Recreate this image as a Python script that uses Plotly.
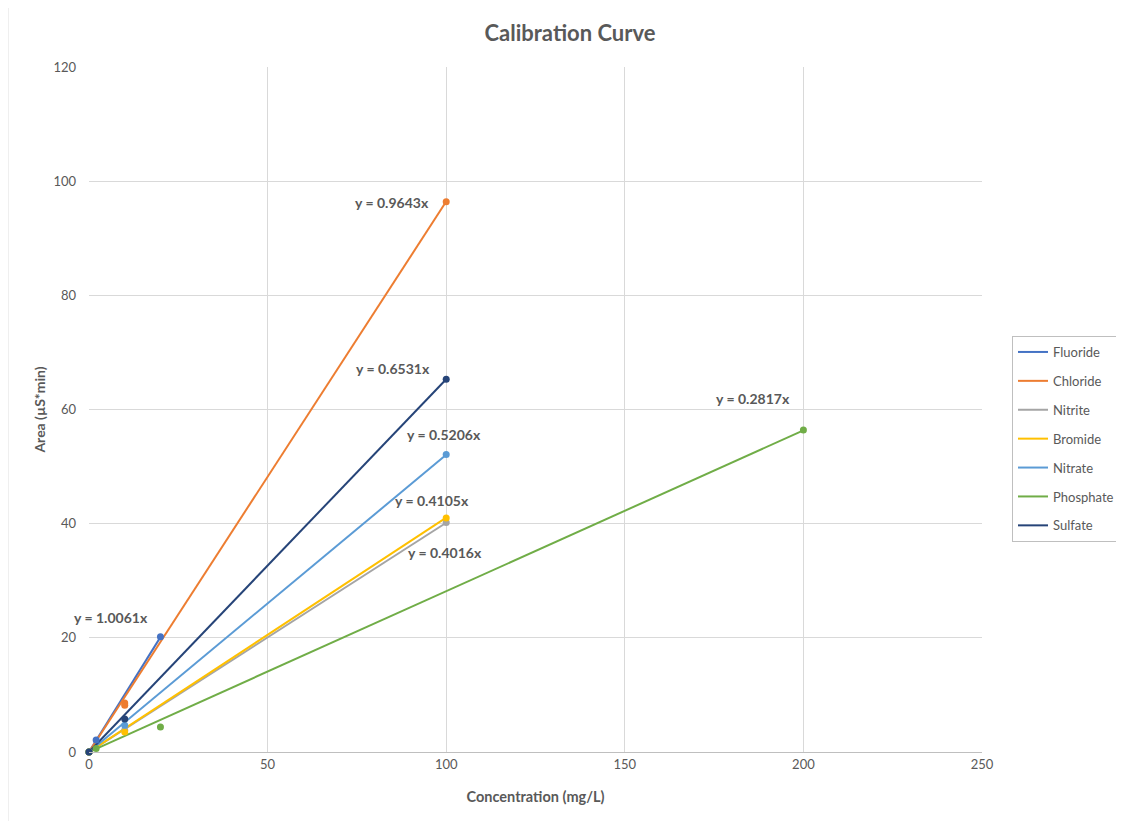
import plotly.graph_objects as go

# ---- data ----
series_names = ["Fluoride", "Chloride", "Nitrite", "Bromide", "Nitrate", "Phosphate", "Sulfate"]
colors = ["#4472C4", "#ED7D31", "#A5A5A5", "#FFC000", "#5B9BD5", "#70AD47", "#264478"]

fluoride_x = [0, 2, 20]
fluoride_y = [0, 2.1, 20.2]
chloride_x = [0, 10, 10, 100]
chloride_y = [0, 8.6, 8.2, 96.4]
nitrite_x = [0, 10, 100]
nitrite_y = [0, 3.8, 40.2]
bromide_x = [0, 10, 100]
bromide_y = [0, 3.5, 41.0]
nitrate_x = [0, 10, 100]
nitrate_y = [0, 4.7, 52.1]
phosphate_x = [0, 2, 20, 200]
phosphate_y = [0, 0.6, 4.4, 56.4]
sulfate_x = [0, 10, 100]
sulfate_y = [0, 5.8, 65.3]

slopes = [1.0061, 0.9643, 0.4016, 0.4105, 0.5206, 0.2817, 0.6531]
eq_labels = ["y = 1.0061x", "y = 0.9643x", "y = 0.4016x", "y = 0.4105x",
             "y = 0.5206x", "y = 0.2817x", "y = 0.6531x"]
eq_x = [6.2, 84.8, 99.7, 96.0, 99.4, 185.9, 85.1]
eq_y = [23.5, 96.2, 35.0, 44.1, 55.7, 62.0, 67.1]

xs = [fluoride_x, chloride_x, nitrite_x, bromide_x, nitrate_x, phosphate_x, sulfate_x]
ys = [fluoride_y, chloride_y, nitrite_y, bromide_y, nitrate_y, phosphate_y, sulfate_y]

x_ticks = [0, 50, 100, 150, 200, 250]
y_ticks = [0, 20, 40, 60, 80, 100, 120]

FONT = "Lato, 'Open Sans', sans-serif"
GREY = "#595959"

fig = go.Figure()
for i, name in enumerate(series_names):
    xmax = max(xs[i])
    fig.add_trace(go.Scatter(
        x=[0, xmax], y=[0, slopes[i] * xmax], mode="lines",
        line=dict(color=colors[i], width=2), name=name,
        legendgroup=name, showlegend=True, hoverinfo="skip", cliponaxis=False))
for i, name in enumerate(series_names):
    fig.add_trace(go.Scatter(
        x=xs[i], y=ys[i], mode="markers",
        marker=dict(color=colors[i], size=7), name=name,
        legendgroup=name, showlegend=False, cliponaxis=False))

for i in range(len(eq_labels)):
    fig.add_annotation(x=eq_x[i], y=eq_y[i], text="<b>" + eq_labels[i] + "</b>",
                       showarrow=False, font=dict(family=FONT, size=14, color=GREY))

# page has an 8px body margin: shift all positions by -8 px
OFF = 8
W, H = 1124, 821
L, T = 89 - OFF, 67 - OFF
R = W - (982 - OFF)
B = H - (752 - OFF)
pw, ph = W - L - R, H - T - B

def px_x(p):
    return (p - OFF - L) / pw

def px_y(p):
    return (H - B - (p - OFF)) / ph

fig.add_shape(type="rect", xref="paper", yref="paper",
              x0=px_x(7.5), x1=px_x(1140), y0=px_y(840), y1=px_y(6.5),
              line=dict(color="#BFBFBF", width=1.5), layer="below")

fig.update_layout(
    width=W, height=H,
    margin=dict(l=L, r=R, t=T, b=B, autoexpand=False),
    paper_bgcolor="white", plot_bgcolor="white",
    title=dict(text="<b>Calibration Curve</b>", x=0.5, xanchor="center",
               y=1 - (33 - OFF) / H, yanchor="middle",
               font=dict(family=FONT, size=22, color=GREY)),
    font=dict(family=FONT, size=12, color=GREY),
    xaxis=dict(range=[0, 250], tickvals=x_ticks, showgrid=True, gridcolor="#D9D9D9",
               gridwidth=1, zeroline=False, showline=True, linecolor="#BFBFBF",
               ticks="", tickfont=dict(size=13, color=GREY),
               title=dict(text="<b>Concentration (mg/L)</b>", standoff=21,
                          font=dict(size=14.5, color=GREY))),
    yaxis=dict(range=[0, 120], tickvals=y_ticks, showgrid=True, gridcolor="#D9D9D9",
               gridwidth=1, zeroline=False, showline=False,
               ticks="", ticklabelstandoff=12, tickfont=dict(size=13, color=GREY),
               title=dict(text="<b>Area (µS*min)</b>", standoff=4,
                          font=dict(size=14, color=GREY))),
    legend=dict(x=px_x(1012), xanchor="left", y=px_y(336), yanchor="top",
                bordercolor="#BFBFBF", borderwidth=1, bgcolor="white",
                traceorder="grouped", tracegroupgap=9,
                font=dict(family=FONT, size=13, color=GREY)),
    showlegend=True,
)

fig.write_html("out.html")
